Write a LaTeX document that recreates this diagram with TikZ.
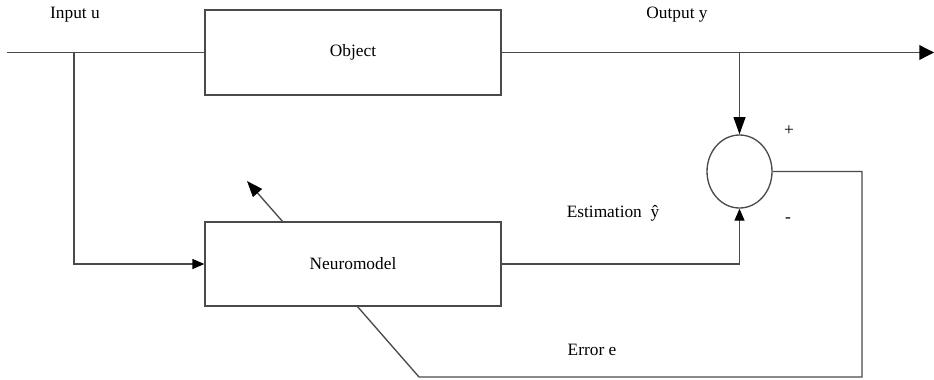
\documentclass[tikz,border=0pt]{standalone}
\usepackage{fontspec}
\setmainfont{Liberation Serif}
\usetikzlibrary{shapes.geometric,arrows.meta}
\definecolor{ln}{HTML}{4A4A4A}
\tikzset{
  wire/.style={draw=ln, line width=1pt},
  arr/.style={wire, -{Triangle[length=9pt,width=7.5pt,color=black]}},
  tallarr/.style={wire, -{Triangle[length=13pt,width=9pt,color=black]}},
  diagarr/.style={wire, -{Triangle[length=12pt,width=9pt,color=black]}},
  bigarr/.style={wire, -{Triangle[length=11pt,width=11pt,color=black]}},
  block/.style={rectangle, draw=ln, line width=1pt, minimum width=222pt, inner sep=0pt, font=\fontsize{13}{15}\selectfont},
  lbl/.style={inner sep=0pt, font=\fontsize{13}{15}\selectfont},
}
\begin{document}
\begin{tikzpicture}[x=0.75pt, y=-0.75pt]
\useasboundingbox (0,0) rectangle (934,379);
% blocks
\node[block, minimum height=63.75pt] (obj) at (353,52.5) {Object};
\node[block, minimum height=63pt] (nm) at (353,264) {Neuromodel};
\node[ellipse, draw=ln, line width=1pt, minimum width=48.75pt, minimum height=54.75pt, inner sep=0pt] (sum) at (739.5,171.5) {};
% coordinates
\coordinate (in) at (7,52.5);
\coordinate (b1) at (74,52.5);
\coordinate (b2) at (739.5,52.5);
\coordinate (out) at (934,52.5);
\coordinate (c1) at (862,377);
\coordinate (c2) at (419,377);
\coordinate (c3) at (357,306);
\coordinate (d1) at (283,222);
\coordinate (d2) at (247,181);
% connectors
\draw[wire] (in) -- (obj.west);
\draw[arr] (b1) |- (nm.west);
\draw[bigarr] (obj.east) -- (out);
\draw[tallarr] (b2) -- (sum.north);
\draw[arr] (nm.east) -| (sum.south);
\draw[wire] (sum.east) -| (c1) -- (c2) -- (c3);
\draw[diagarr] (d1) -- (d2);
% labels
\node[lbl] (lin) at (75,15) {Input u};
\node[lbl] (lout) at (677,15) {Output y};
\node[lbl] (lest) at (613,213) {Estimation\ \ ŷ};
\node[lbl] (lerr) at (592,350) {Error e};
\node[lbl] (lplus) at (789,131) {+};
\node[lbl] (lminus) at (788,220) {-};
\end{tikzpicture}
\end{document}
